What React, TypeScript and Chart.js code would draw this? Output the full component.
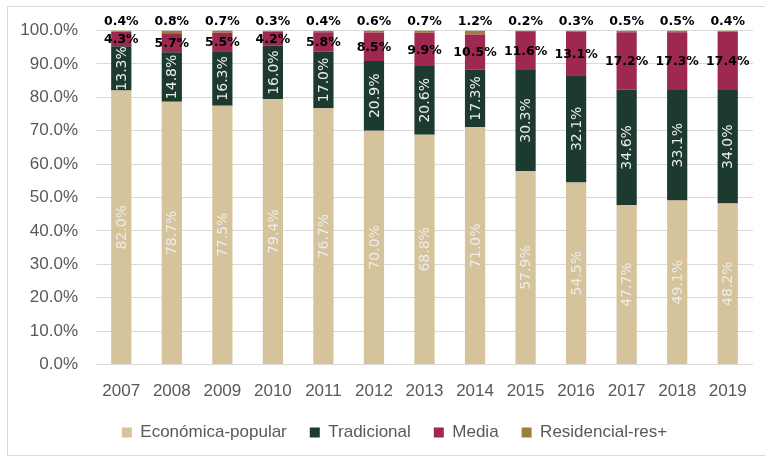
import React, { useEffect, useRef } from "react";
import { Chart, registerables } from "chart.js";

Chart.register(...registerables);

const years = ["2007", "2008", "2009", "2010", "2011", "2012", "2013", "2014", "2015", "2016", "2017", "2018", "2019"];
const economica = [82.0, 78.7, 77.5, 79.4, 76.7, 70.0, 68.8, 71.0, 57.9, 54.5, 47.7, 49.1, 48.2];
const tradicional = [13.3, 14.8, 16.3, 16.0, 17.0, 20.9, 20.6, 17.3, 30.3, 32.1, 34.6, 33.1, 34.0];
const media = [4.3, 5.7, 5.5, 4.2, 5.8, 8.5, 9.9, 10.5, 11.6, 13.1, 17.2, 17.3, 17.4];
const residencial = [0.4, 0.8, 0.7, 0.3, 0.4, 0.6, 0.7, 1.2, 0.2, 0.3, 0.5, 0.5, 0.4];
const seriesNames = ["Económica-popular", "Tradicional", "Media", "Residencial-res+"];
const seriesColors = ["#D5C39B", "#1D3A2F", "#9E2850", "#9F7E3E"];

const labelPlugin = {
  id: "segLabels",
  afterLayout(chart: any) {
    const lg = chart.legend;
    if (lg) {
      lg.left += 18;
      lg.right += 18;
    }
  },
  afterDatasetsDraw(chart: any) {
    const ctx = chart.ctx;
    chart.data.datasets.forEach((ds: any, i: number) => {
      const meta = chart.getDatasetMeta(i);
      meta.data.forEach((bar: any, j: number) => {
        const { x, y, base } = bar.getProps(["x", "y", "base"], true);
        const txt = Number(ds.data[j]).toFixed(1) + "%";
        ctx.save();
        if (i <= 1) {
          ctx.translate(x, (y + base) / 2);
          ctx.rotate(-Math.PI / 2);
          ctx.font = "14px 'DejaVu Sans'";
          ctx.fillStyle = "#ECECEC";
          ctx.textAlign = "center";
          ctx.textBaseline = "middle";
          ctx.fillText(txt, 0, 1);
        } else if (i === 2) {
          ctx.font = "bold 12.5px 'DejaVu Sans'";
          ctx.fillStyle = "#000000";
          ctx.textAlign = "center";
          ctx.textBaseline = "middle";
          ctx.fillText(txt, x, (y + base) / 2 + 1);
        } else {
          ctx.font = "bold 12.5px 'DejaVu Sans'";
          ctx.fillStyle = "#000000";
          ctx.textAlign = "center";
          ctx.textBaseline = "middle";
          ctx.fillText(txt, x, y - 9);
        }
        ctx.restore();
      });
    });
  },
};

export default function App() {
  const ref = useRef<HTMLCanvasElement>(null);
  useEffect(() => {
    if (!ref.current) return;
    const seriesData = [economica, tradicional, media, residencial];
    const chart = new Chart(ref.current, {
      type: "bar",
      data: {
        labels: years,
        datasets: seriesData.map((d, i) => ({
          label: seriesNames[i],
          data: d,
          backgroundColor: seriesColors[i],
          borderWidth: 0,
          categoryPercentage: 1,
          barPercentage: 0.4,
        })),
      },
      options: {
        responsive: false,
        animation: false,
        layout: { padding: { left: 0, right: 12, top: 30.5, bottom: 8 } },
        plugins: {
          legend: {
            position: "bottom",
            labels: {
              boxWidth: 10,
              boxHeight: 10,
              padding: 23,
              color: "#595959",
              font: { family: "'Liberation Sans', Arial, sans-serif", size: 17 },
            },
          },
          tooltip: { enabled: false },
        },
        scales: {
          x: {
            stacked: true,
            grid: { display: false, drawTicks: false },
            border: { display: false },
            ticks: {
              padding: 17,
              color: "#595959",
              font: { family: "'Liberation Sans', Arial, sans-serif", size: 17 },
              maxRotation: 0,
            },
            afterFit: (s: any) => {
              s.height = 36.5;
            },
          },
          y: {
            stacked: true,
            min: 0,
            max: 100,
            grid: { color: "#D9D9D9", drawTicks: false, lineWidth: 1 },
            border: { display: false },
            ticks: {
              stepSize: 10,
              padding: 18,
              color: "#595959",
              font: { family: "'Liberation Sans', Arial, sans-serif", size: 17 },
              callback: (v: any) => Number(v).toFixed(1) + "%",
            },
            afterFit: (s: any) => {
              s.width = 96;
            },
          },
        },
      },
      plugins: [labelPlugin],
    });
    return () => chart.destroy();
  }, []);
  return (
    <div style={{ position: "absolute", left: 0, top: 0, width: 765, height: 459, background: "#fff", overflow: "hidden" }}>
      <div
        style={{
          position: "absolute",
          left: 7,
          top: 6,
          width: 780,
          height: 448,
          border: "1px solid #D9D9D9",
        }}
      />
      <canvas ref={ref} width={765} height={459} style={{ position: "absolute", left: 0, top: 0 }} />
    </div>
  );
}
